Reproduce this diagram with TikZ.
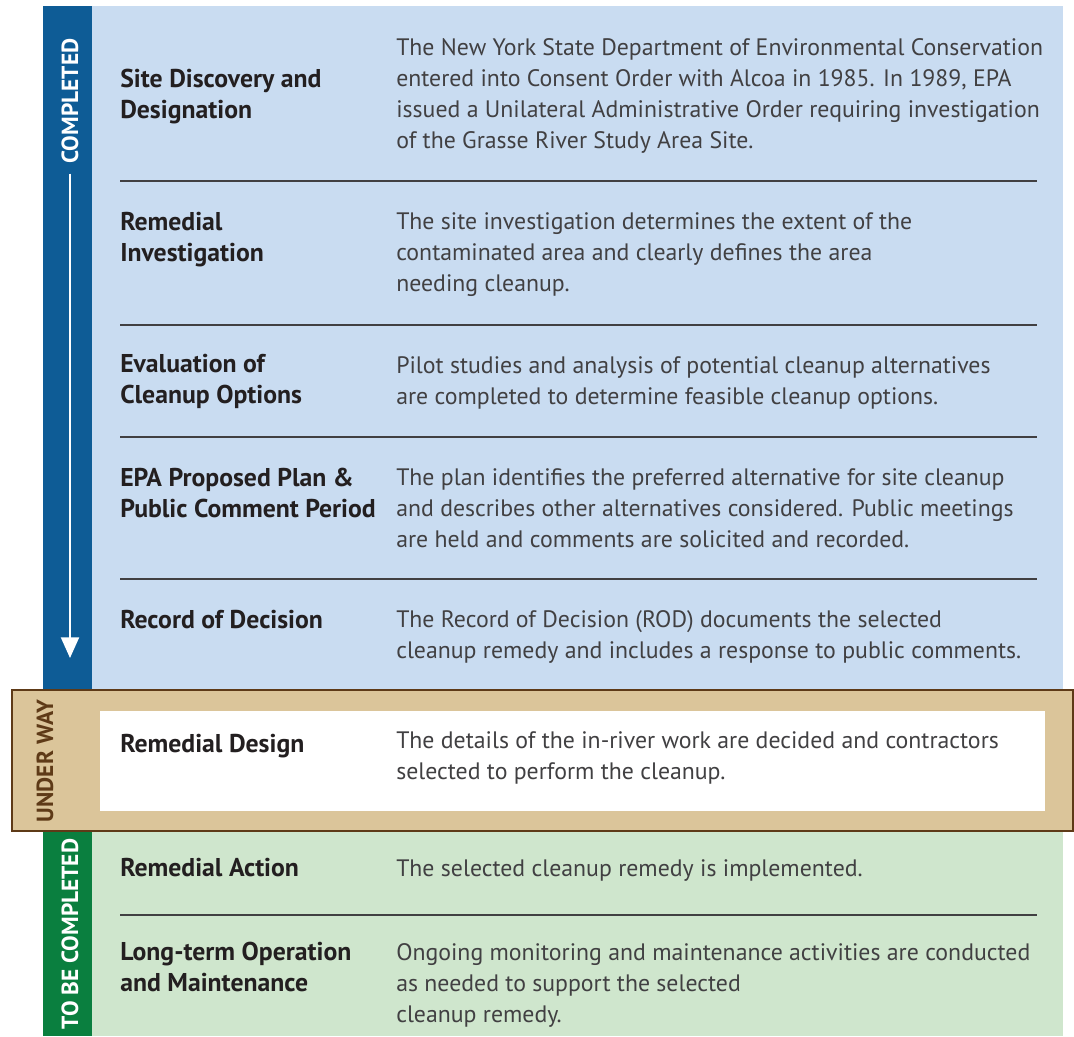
\documentclass[tikz,border=0pt]{standalone}
\usepackage{fontspec}
\setsansfont{PT Sans}
\usetikzlibrary{arrows.meta}

\definecolor{sideblue}{RGB}{14,92,150}
\definecolor{paneblue}{RGB}{201,220,241}
\definecolor{sidegreen}{RGB}{10,127,63}
\definecolor{panegreen}{RGB}{207,230,205}
\definecolor{bandtan}{RGB}{219,197,154}
\definecolor{bandbrown}{RGB}{94,58,23}
\definecolor{titlegray}{RGB}{35,31,32}
\definecolor{descgray}{RGB}{65,64,66}

\begin{document}
\begin{tikzpicture}[x=0.75pt, y=-0.75pt,
    font=\sffamily,
    >={Triangle[width=13.5pt,length=15.5pt]},
    stage/.style={anchor=north west, inner sep=0pt, align=left, text=titlegray, font=\sffamily\bfseries\fontsize{19.3}{23.25}\selectfont},
    desc/.style={anchor=north west, inner sep=0pt, align=left, text=descgray, font=\sffamily\fontsize{17.85}{23.25}\selectfont},
    side/.style={rotate=90, inner sep=0pt, font=\sffamily\bfseries\fontsize{17.5}{17.5}\selectfont},
    rule/.style={draw=descgray, line width=1.1pt}]

\useasboundingbox (0,0) rectangle (1074,1036);

\fill[sideblue] (43,6) rectangle (92,690);
\fill[paneblue] (92,6) rectangle (1063,690);
\fill[sidegreen] (43,831) rectangle (92,1036);
\fill[panegreen] (92,831) rectangle (1063,1036);
\filldraw[fill=bandtan, draw=bandbrown, line width=1.5pt] (12,690) rectangle (1073,831);
\fill[white] (100,711) rectangle (1045,811);

\draw[rule] (120,181) -- (1037,181);
\draw[rule] (120,325) -- (1037,325);
\draw[rule] (120,437) -- (1037,437);
\draw[rule] (120,579) -- (1037,579);
\draw[rule] (120,915) -- (1037,915);

\node[stage] (discovery) at (120,69) {Site Discovery and\\Designation};
\node[desc] (discoverytxt) at (396,38) {The New York State Department of Environmental Conservation\\entered into Consent Order with Alcoa in 1985. In 1989, EPA\\issued a Unilateral Administrative Order requiring investigation\\of the Grasse River Study Area Site.};

\node[stage] (investigation) at (120,212) {Remedial\\Investigation};
\node[desc] (investigationtxt) at (396,212) {The site investigation determines the extent of the\\contaminated area and clearly defines the area\\needing cleanup.};

\node[stage] (options) at (120,354) {Evaluation of\\Cleanup Options};
\node[desc] (optionstxt) at (396,356) {Pilot studies and analysis of potential cleanup alternatives\\are completed to determine feasible cleanup options.};

\node[stage] (plan) at (120,468) {EPA Proposed Plan \&\\Public Comment Period};
\node[desc] (plantxt) at (396,468) {The plan identifies the preferred alternative for site cleanup\\and describes other alternatives considered. Public meetings\\are held and comments are solicited and recorded.};

\node[stage] (decision) at (120,610) {Record of Decision};
\node[desc] (decisiontxt) at (396,610) {The Record of Decision (ROD) documents the selected\\cleanup remedy and includes a response to public comments.};

\node[stage] (design) at (120,734) {Remedial Design};
\node[desc] (designtxt) at (396,731) {The details of the in-river work are decided and contractors\\selected to perform the cleanup.};

\node[stage] (action) at (120,858) {Remedial Action};
\node[desc] (actiontxt) at (396,859) {The selected cleanup remedy is implemented.};

\node[stage] (maintenance) at (120,942) {Long-term Operation\\and Maintenance};
\node[desc] (maintenancetxt) at (396,943) {Ongoing monitoring and maintenance activities are conducted\\as needed to support the selected\\cleanup remedy.};

\node[side, text=white] (completed) at (70,101) {COMPLETED};
\node[side, text=bandbrown] (underway) at (45,761) {UNDER WAY};
\node[side, text=white] (tobecompleted) at (70,934) {TO BE COMPLETED};

\coordinate (arrowlevel) at (0,658);
\coordinate (arrowend) at (completed.west |- arrowlevel);
\draw[->, white, line width=1.5pt] ([yshift=-7.5pt]completed.west) -- (arrowend);

\end{tikzpicture}
\end{document}
